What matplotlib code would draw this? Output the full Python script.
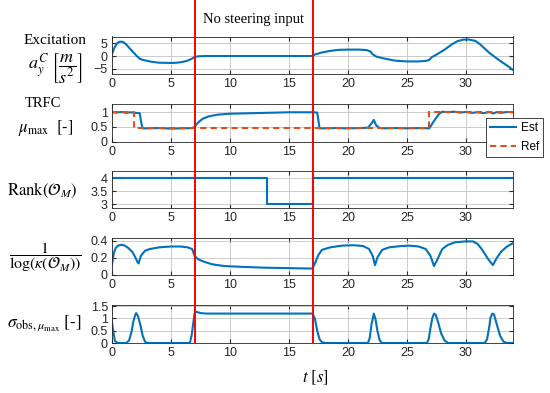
import matplotlib
matplotlib.use('Agg')
import matplotlib.pyplot as plt
import matplotlib.transforms as mtransforms
from matplotlib.lines import Line2D

plt.rcParams['font.family'] = ['Liberation Sans', 'DejaVu Sans']
plt.rcParams['mathtext.fontset'] = 'stix'

# excitation a_y
ay_t = [0, 0.2, 0.4, 0.6, 0.8, 1.0, 1.2, 1.5, 1.8, 2.1, 2.4, 2.8, 3.3, 4, 5, 5.5, 6, 6.4, 6.8, 7.0, 7.3, 8, 12,
        17, 17.2, 17.8, 18.5, 19.2, 20, 21, 21.6, 21.9, 22.1, 22.4, 23, 24, 25, 26, 26.6, 26.9, 27.1, 27.6, 28.2,
        28.8, 29.3, 29.8, 30.3, 30.8, 31.2, 31.6, 32, 32.5, 33, 33.5, 34]
ay_v = [0.8, 3.2, 4.8, 5.5, 5.6, 5.3, 4.5, 3.0, 1.5, 0.0, -1.2, -1.7, -2.2, -2.6, -2.7, -2.6, -2.3, -1.8, -1.0, -0.4, -0.1, 0.0, 0.0,
        0.0, 0.6, 1.4, 2.0, 2.4, 2.5, 2.5, 2.3, 1.8, 0.7, -0.2, -0.9, -1.8, -2.1, -2.1, -1.9, -1.5, -0.5, 0.8, 2.5,
        4.5, 5.8, 6.4, 6.4, 5.9, 4.6, 2.9, 1.2, -0.5, -2.2, -3.7, -5.4]

# TRFC estimate and reference
mu_t = [0, 0.4, 0.8, 1.2, 1.6, 2.0, 2.35, 2.5, 2.6, 3, 4, 5, 6, 6.8, 7.0, 7.3, 7.7, 8.2, 9, 10, 11, 12, 13, 14, 15, 16,
        17, 17.4, 17.6, 18, 19, 20, 21, 21.7, 22.0, 22.2, 22.4, 22.7, 23, 24, 25, 26, 26.9, 27.3, 27.7, 28, 28.5,
        29, 29.5, 30, 30.5, 31, 31.5, 32, 32.3, 32.6, 33, 33.5, 34]
mu_v = [1.0, 0.99, 1.01, 0.98, 1.0, 0.98, 0.97, 0.6, 0.45, 0.45, 0.46, 0.44, 0.45, 0.46, 0.5, 0.65, 0.78, 0.86, 0.92, 0.95, 0.96, 0.97, 0.98, 0.99, 1.0, 1.0,
        1.0, 0.99, 0.45, 0.45, 0.46, 0.45, 0.46, 0.47, 0.62, 0.74, 0.55, 0.46, 0.45, 0.46, 0.45, 0.46, 0.45, 0.7, 0.93, 1.02, 1.0,
        1.02, 0.99, 1.01, 0.98, 1.0, 0.97, 1.01, 0.96, 1.0, 0.98, 1.01, 1.0]
ref_t = [0, 1.85, 1.85, 26.9, 26.9, 34]
ref_v = [1, 1, 0.45, 0.45, 1, 1]

# rank of observability matrix
rank_t = [0, 13.1, 13.1, 17, 17, 34]
rank_v = [4, 4, 3, 3, 4, 4]

# 1/log(kappa)
k_t = [0, 0.15, 0.3, 0.5, 0.8, 1.1, 1.4, 1.7, 1.95, 2.15, 2.25, 2.45, 2.8, 3.2, 4, 5, 5.8, 6.4, 6.8, 7.0, 7.3, 7.8, 8.5,
       9.5, 11, 13, 15, 17, 17.2, 17.5, 17.8, 18.5, 19.5, 20.5, 21.3, 21.8, 22.1, 22.3, 22.5, 22.9, 23.5, 24.5, 25.2,
       26, 26.6, 27.0, 27.3, 27.6, 28, 28.5, 29.1, 30, 30.6, 31, 31.4, 31.9, 32.3, 32.6, 33, 33.5, 34]
k_v = [0.12, 0.25, 0.31, 0.34, 0.35, 0.34, 0.31, 0.27, 0.21, 0.15, 0.13, 0.22, 0.28, 0.3, 0.32, 0.33, 0.33, 0.32, 0.3, 0.22, 0.18, 0.15, 0.12,
       0.1, 0.09, 0.08, 0.075, 0.07, 0.13, 0.23, 0.29, 0.32, 0.34, 0.345, 0.335, 0.3, 0.22, 0.11, 0.2, 0.29, 0.32, 0.335, 0.34,
       0.33, 0.3, 0.22, 0.1, 0.18, 0.3, 0.35, 0.38, 0.39, 0.39, 0.36, 0.29, 0.18, 0.11, 0.19, 0.27, 0.33, 0.37]

# sigma of mu_max
s_t = [0, 0.1, 0.25, 0.5, 1.2, 1.45, 1.65, 1.8, 1.95, 2.05, 2.2, 2.4, 2.6, 2.8, 3.0, 6.6, 6.75, 6.9, 7.0, 7.1, 7.5, 8, 12,
       17, 17.2, 17.4, 17.6, 17.8, 18.1, 21.7, 21.85, 22.0, 22.2, 22.35, 22.5, 22.7, 22.9, 26.7, 26.85, 27.0, 27.15,
       27.3, 27.45, 27.65, 27.9, 28.2, 28.5, 31.6, 31.8, 32.0, 32.1, 32.25, 32.4, 32.6, 32.9, 33.2, 33.5, 34]
s_v = [0.85, 0.5, 0.08, 0.0, 0.0, 0.1, 0.45, 0.85, 1.12, 1.22, 1.1, 0.75, 0.3, 0.05, 0.0, 0.0, 0.3, 0.85, 1.2, 1.28, 1.22, 1.2, 1.2,
       1.2, 1.0, 0.5, 0.15, 0.03, 0.0, 0.0, 0.2, 0.75, 1.2, 0.95, 0.5, 0.1, 0.0, 0.0, 0.15, 0.6, 1.0, 1.2,
       1.15, 0.85, 0.4, 0.1, 0.0, 0.0, 0.15, 0.7, 1.05, 1.2, 1.15, 0.8, 0.3, 0.05, 0.0, 0.0]

xticks = [0, 5, 10, 15, 20, 25, 30]
blue = '#0072BD'
orange = '#D95319'

fig = plt.figure(figsize=(5.5, 3.93), dpi=100)
W, H = 550.0, 393.0
# (top, bottom) in pixels for the five panels
rows = [(36.5, 73.5), (103.5, 141.5), (171.5, 208), (238, 274.5), (305, 343)]
axes = []
for top, bot in rows:
    ax = fig.add_axes([112 / W, 1 - bot / H, 401 / W, (bot - top) / H])
    axes.append(ax)

ax1, ax2, ax3, ax4, ax5 = axes
ax1.plot(ay_t, ay_v, color=blue, lw=1.5)
ax1.set_ylim(-6.8, 7.6)
ax1.set_yticks([-5, 0, 5])

l_est, = ax2.plot(mu_t, mu_v, color=blue, lw=1.5, label='Est')
l_ref, = ax2.plot(ref_t, ref_v, color=orange, lw=1.5, ls=(0, (3, 2)), label='Ref')
ax2.set_ylim(0, 1.3)
ax2.set_yticks([0, 0.5, 1])
ax2.set_yticklabels(['0', '0.5', '1'])

ax3.plot(rank_t, rank_v, color=blue, lw=1.5)
ax3.set_ylim(2.85, 4.25)
ax3.set_yticks([3, 3.5, 4])
ax3.set_yticklabels(['3', '3.5', '4'])

ax4.plot(k_t, k_v, color=blue, lw=1.5)
ax4.set_ylim(0, 0.43)
ax4.set_yticks([0, 0.2, 0.4])
ax4.set_yticklabels(['0', '0.2', '0.4'])

ax5.plot(s_t, s_v, color=blue, lw=1.5)
ax5.set_ylim(0, 1.55)
ax5.set_yticks([0, 0.5, 1, 1.5])
ax5.set_yticklabels(['0', '0.5', '1', '1.5'])

for ax in axes:
    ax.set_xlim(0, 34)
    ax.set_xticks(xticks)
    ax.grid(True, color='#c4c4c4', lw=0.6)
    ax.set_axisbelow(True)
    ax.tick_params(direction='in', length=3, labelsize=9, colors='#262626',
                   top=True, right=True, pad=3)
    for sp in ax.spines.values():
        sp.set_color('#262626')
        sp.set_linewidth(0.6)

# red lines marking the no-steering interval
trans = mtransforms.blended_transform_factory(ax5.transData, fig.transFigure)
y_low = 1 - 343 / H
for xv in [7, 17]:
    fig.add_artist(Line2D([xv, xv], [y_low, 1.0], transform=trans, color='#ff0000', lw=1.4))
fig.text(12, 1 - 20 / H, 'No steering input', transform=trans, ha='center', va='center',
         fontsize=10.5, family='Liberation Serif')

# row labels
serif = 'Liberation Serif'
fig.text(55 / W, 1 - 40 / H, 'Excitation', ha='center', va='center', fontsize=11, family=serif)
fig.text(55 / W, 1 - 68 / H, r'$a_y^C\ \left[\dfrac{m}{s^2}\right]$', ha='center', va='center', fontsize=13)
fig.text(43 / W, 1 - 104 / H, 'TRFC', ha='center', va='center', fontsize=10.5, family=serif)
fig.text(46 / W, 1 - 128 / H, r'$\mu_{\max}\ \ [\text{-}]$', ha='center', va='center', fontsize=12)
fig.text(42 / W, 1 - 190 / H, r'$\mathrm{Rank}(\mathcal{O}_M)$', ha='center', va='center', fontsize=12)
fig.text(45 / W, 1 - 257 / H, r'$\dfrac{1}{\log(\kappa(\mathcal{O}_M))}$', ha='center', va='center', fontsize=11.5)
fig.text(44 / W, 1 - 323 / H, r'$\sigma_{\mathrm{obs},\mu_{\max}}\ [\text{-}]$', ha='center', va='center', fontsize=12.5)
fig.text(315 / W, 1 - 378 / H, r'$t\ [s]$', ha='center', va='center', fontsize=12)

leg = fig.legend(handles=[l_est, l_ref], loc='upper left', bbox_to_anchor=(486 / W, 1 - 118 / H),
                 fontsize=8.5, fancybox=False, edgecolor='#262626', framealpha=1,
                 handlelength=2.2, borderpad=0.35, labelspacing=0.6, handletextpad=0.4, borderaxespad=0)
leg.get_frame().set_linewidth(0.6)

fig.savefig('out.png', dpi=100)
